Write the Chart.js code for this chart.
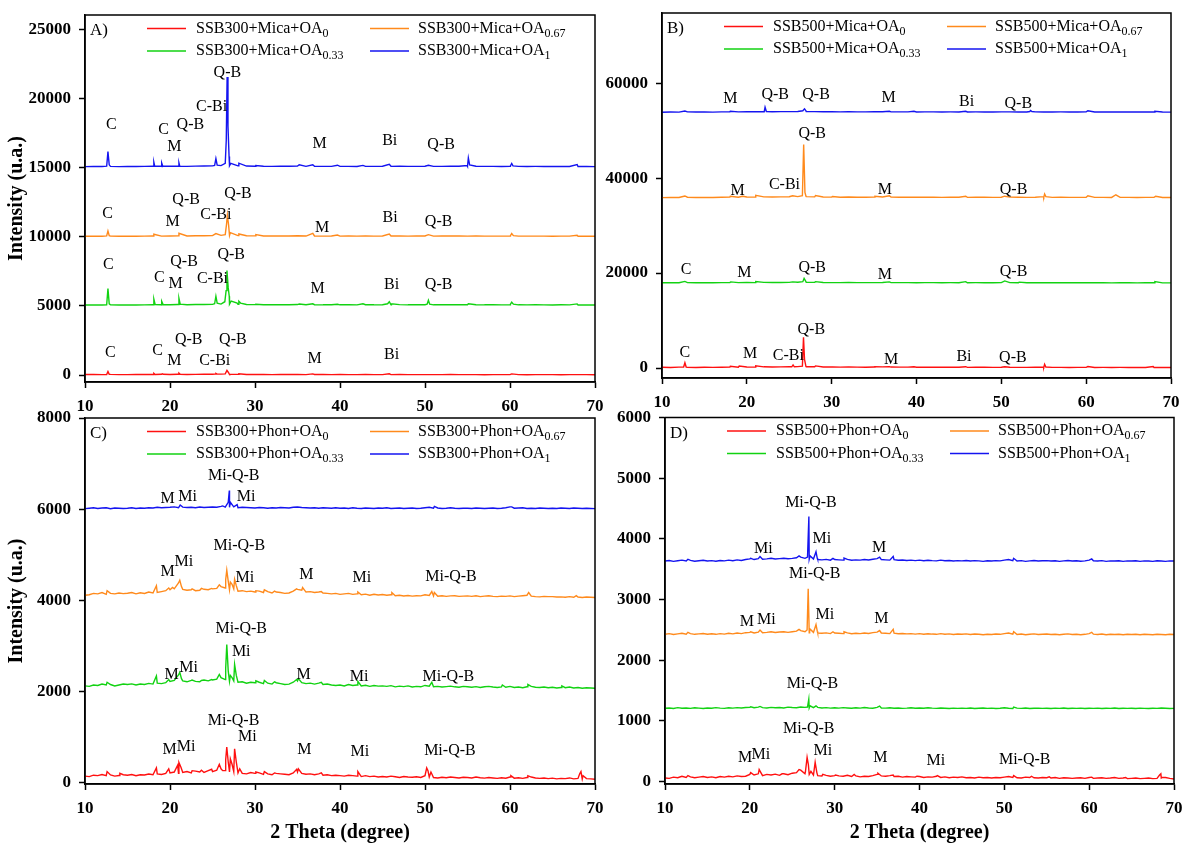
<!DOCTYPE html>
<html>
<head>
<meta charset="utf-8">
<title>XRD patterns – SSB + Mica / Phon + OA</title>
<script src="https://cdn.jsdelivr.net/npm/chart.js@4.4.1/dist/chart.umd.min.js"></script>
<style>
  html, body { margin: 0; padding: 0; background: #fff; }
  #page { position: relative; width: 1182px; height: 843px; overflow: hidden; background: #fff; }
  .panel { position: absolute; }
</style>
</head>
<body>
<div id="page">
  <div class="panel" id="wrapB" style="left:600px;top:0;width:582px;height:420px"><canvas id="chartB" width="582" height="420"></canvas></div>
  <div class="panel" id="wrapD" style="left:600px;top:395px;width:582px;height:448px"><canvas id="chartD" width="582" height="448"></canvas></div>
  <div class="panel" id="wrapA" style="left:0;top:0;width:615px;height:420px"><canvas id="chartA" width="615" height="420"></canvas></div>
  <div class="panel" id="wrapC" style="left:0;top:395px;width:615px;height:448px"><canvas id="chartC" width="615" height="448"></canvas></div>
</div>
<script>
// ---------- axes ----------
const xTicks = [10, 20, 30, 40, 50, 60, 70];
const yTicksA = [0, 5000, 10000, 15000, 20000, 25000];
const yTicksB = [0, 20000, 40000, 60000];
const yTicksC = [0, 2000, 4000, 6000, 8000];
const yTicksD = [0, 1000, 2000, 3000, 4000, 5000, 6000];

// 2θ sampling grids: 1° for the mica panels, 0.5° for the phonolite panels
const gridCoarse = [];
for (let i = 0; i <= 60; i++) gridCoarse.push(10 + i);
const gridFine = [];
for (let i = 0; i <= 120; i++) gridFine.push(10 + i / 2);

// ---------- A) SSB300 + Mica ----------
const a0_base = [40,35,30,45,30,25,35,40,30,45, 40,50,40,45,55,50,60,55,45,40, 35,40,30,35,45,40,30,35,40,30,
  35,30,25,35,30,25,30,35,30,25, 30,25,30,35,25,30,25,20,30,25, 30,25,20,25,30,25,20,25,30,25, 20];
const a0_peaks = [[12.55,40],[12.7,260],[12.85,50],[18.0,40],[18.1,120],[18.25,40],[19.0,50],[19.1,90],[19.2,50],
  [20.9,50],[21.05,140],[21.2,50],[25.3,60],[25.4,110],[25.55,60],[26.5,80],[26.7,330],[26.85,200],[26.97,80],
  [28.1,90],[36.8,80],[45.8,90],[60.2,80]];
const a033_base = [5060,5070,5065,5075,5060,5070,5065,5075,5080,5070, 5085,5090,5080,5095,5100,5110,5130,5120,5110,5100,
  5090,5085,5080,5090,5085,5095,5080,5085,5075,5080, 5075,5080,5070,5080,5075,5085,5080,5090,5075,5080,
  5085,5075,5080,5085,5090,5080,5085,5075,5080,5070, 5080,5075,5070,5075,5070,5065,5075,5070,5065,5070, 5060];
const a033_peaks = [[12.55,5080],[12.7,6250],[12.85,5150],[18.0,5080],[18.1,5480],[18.25,5100],[18.95,5080],[19.05,5330],[19.2,5080],
  [20.9,5100],[21.05,5550],[21.2,5120],[25.25,5150],[25.4,5700],[25.55,5200],[26.45,5300],[26.6,6100],[26.7,7550],[26.85,6300],
  [26.97,5700],[27.2,5350],[27.9,5200],[28.1,5330],[28.3,5200],[30.1,5120],[35.2,5130],[36.8,5150],[39.7,5120],[42.7,5150],
  [45.6,5150],[45.8,5300],[46.05,5150],[50.25,5120],[50.4,5400],[50.55,5120],[55.1,5150],[60.05,5120],[60.2,5260],[60.4,5120],[67.9,5140]];
const a067_base = [10030,10040,10035,10045,10030,10040,10035,10045,10050,10040, 10055,10060,10050,10065,10070,10080,10100,10090,10080,10070,
  10060,10055,10050,10060,10055,10065,10050,10055,10045,10050, 10045,10050,10040,10050,10045,10055,10050,10060,10045,10050,
  10055,10045,10050,10055,10050,10045,10050,10040,10045,10040, 10050,10045,10040,10045,10040,10035,10045,10040,10035,10040, 10030];
const a067_peaks = [[12.55,10060],[12.7,10420],[12.85,10080],[18.1,10180],[21.05,10250],[25.4,10230],[26.5,10150],[26.65,10900],
  [26.75,11550],[26.9,10800],[27.1,10300],[28.1,10200],[30.1,10150],[36.8,10250],[39.7,10120],[45.8,10200],[50.4,10150],
  [60.05,10080],[60.2,10230],[60.4,10080],[67.9,10100]];
const a1_base = [15070,15080,15075,15085,15070,15080,15075,15085,15090,15080, 15095,15100,15090,15105,15110,15120,15140,15130,15120,15110,
  15100,15095,15090,15100,15095,15105,15090,15095,15085,15090, 15085,15090,15080,15090,15085,15095,15090,15100,15085,15090,
  15095,15085,15090,15095,15100,15090,15095,15085,15090,15080, 15090,15085,15080,15085,15080,15075,15085,15080,15075,15080, 15070];
const a1_peaks = [[12.55,15100],[12.7,16150],[12.85,15200],[18.0,15100],[18.1,15380],[18.2,15100],[18.95,15100],[19.05,15330],[19.15,15100],
  [20.9,15100],[21.05,15350],[21.15,15100],[25.25,15150],[25.4,15650],[25.55,15180],[26.5,15300],[26.62,17000],[26.72,21550],[26.82,18000],
  [26.95,15800],[27.15,15300],[28.1,15320],[30.1,15150],[35.2,15200],[36.8,15200],[39.7,15170],[42.7,15160],[45.8,15230],[50.4,15170],
  [54.95,15150],[55.1,15700],[55.25,15200],[60.05,15120],[60.2,15300],[60.35,15120],[67.9,15220]];

// ---------- B) SSB500 + Mica ----------
const b0_base = [150,120,180,140,110,160,130,150,200,180, 220,180,250,200,230,260,300,280,250,220,
  200,180,220,190,170,210,230,200,180,190, 170,160,180,150,170,160,140,150,160,140,
  150,160,140,130,150,140,130,140,120,130, 140,120,130,110,130,120,110,120,100,110, 100];
const b0_peaks = [[12.55,200],[12.7,1100],[12.85,200],[18.05,350],[19.1,400],[21.05,450],[25.3,250],[25.45,650],[25.6,250],
  [26.55,400],[26.68,6500],[26.8,1800],[26.97,300],[28.1,450],[30.1,200],[35.1,250],[36.8,300],[39.7,250],[45.8,280],
  [50.4,250],[54.95,200],[55.1,800],[55.25,200],[60.2,300],[67.9,300]];
const b033_base = [17950,17980,17960,18000,17970,17990,17960,17980,18010,17990, 18020,18000,18040,18010,18030,18050,18080,18060,18040,18020,
  18000,17990,18010,17990,17980,18000,18020,17990,17980,17990, 17970,17990,17980,17960,17980,17970,17960,17980,17970,17960,
  17980,17990,17960,17950,17970,17960,17950,17970,17960,17950, 17970,17950,17960,17940,17960,17950,17940,17960,17950,17940, 17930];
const b033_peaks = [[12.7,18250],[18.1,18150],[21.05,18200],[25.4,18150],[26.6,18200],[26.75,18900],[26.95,18250],[28.1,18200],
  [36.8,18150],[45.8,18200],[50.4,18350],[52.1,18100],[68.1,18200]];
const b067_base = [35900,35950,35920,35980,35940,35960,35930,35970,36010,35990, 36030,36010,36060,36020,36050,36080,36120,36100,36060,36030,
  36010,35990,36020,35990,35980,36010,36040,36000,35980,35990, 35970,35990,35980,35960,35980,35970,35960,35990,35970,35960,
  35990,36000,35970,35950,35970,35960,35950,35980,35960,35950, 35980,35950,35960,35940,35960,35950,35940,35960,35950,35930, 35920];
const b067_peaks = [[12.7,36250],[18.05,36200],[19.5,36200],[21.05,36400],[25.4,36300],[26.55,36300],[26.7,47100],[26.85,37000],
  [26.97,36200],[28.1,36350],[30.1,36150],[35.1,36200],[36.8,36300],[45.8,36200],[50.4,36200],[54.95,36100],[55.1,36650],
  [55.25,36100],[60.2,36300],[63.5,36500],[68.2,36200]];
const b1_base = [53900,53950,53920,53960,53930,53950,53920,53960,53990,53970, 54000,53980,54010,53990,54010,54030,54060,54040,54010,53990,
  53980,53960,53990,53970,53960,53980,54000,53970,53960,53970, 53950,53970,53960,53940,53960,53950,53940,53960,53950,53940,
  53960,53970,53950,53940,53960,53950,53940,53960,53950,53940, 53960,53940,53950,53930,53950,53940,53930,53950,53940,53930, 53920];
const b1_peaks = [[12.7,54150],[18.05,54100],[22.05,54000],[22.15,54950],[22.3,54050],[26.6,54200],[26.8,54600],[26.97,54200],
  [36.8,54100],[39.7,54100],[45.8,54100],[53.35,54050],[53.45,54250],[53.6,54050],[60.2,54200],[68.1,54100]];

// ---------- C) SSB300 + Phon ----------
const c0_base = [140,130,160,150,175,150,165,140,155,170, 160,175,150,170,165,185,170,190,175,200,
  210,230,200,220,240,210,250,230,220,260, 240,270,300,260,230,240,210,200,190,220,
  200,210,180,190,170,200,190,180,170,210, 230,200,180,190,170,190,160,170,150,160,
  150,140,160,150,140,130,150,130,140,120, 130,120,140,125,110,130,120,115,125,110,
  150,120,110,100,115,105,120,110,100,115, 110,100,120,105,95,110,100,90,105,95,
  120,95,105,90,110,120,100,90,100,85, 95,80,90,85,100,80,90,75,85,80, 70];
const c0_peaks = [[12.6,240],[14.1,200],[18.4,320],[19.85,300],[20.9,380],[21.05,440],[21.3,330],[22.6,260],[23.7,270],[24.9,290],
  [25.8,400],[26.2,260],[26.55,500],[26.68,780],[26.85,450],[27.1,520],[27.3,400],[27.6,740],[27.8,450],[28.2,300],[30.1,230],
  [31.1,240],[32.3,210],[34.9,290],[35.1,300],[37.8,210],[42.1,240],[50.2,320],[50.35,260],[50.7,230],[60.1,150],[62.1,150],
  [68.2,190],[68.35,240],[68.6,150]];
const c033_base = [2120,2110,2140,2130,2160,2140,2150,2120,2140,2160, 2150,2165,2140,2160,2150,2175,2160,2180,2170,2190,
  2220,2240,2200,2230,2210,2240,2220,2210,2250,2230, 2250,2270,2300,2260,2220,2230,2200,2210,2180,2200,
  2190,2200,2170,2180,2160,2190,2170,2150,2160,2200, 2230,2190,2170,2180,2160,2180,2150,2160,2140,2130,
  2140,2120,2150,2130,2140,2120,2135,2110,2130,2115, 2120,2110,2125,2100,2115,2105,2120,2095,2110,2100,
  2130,2115,2100,2110,2095,2105,2115,2100,2090,2110, 2100,2090,2105,2085,2100,2110,2095,2085,2100,2090,
  2110,2085,2095,2080,2100,2110,2090,2085,2095,2080, 2090,2075,2085,2080,2095,2075,2085,2070,2080,2075, 2070];
const c033_peaks = [[12.6,2200],[18.4,2340],[19.85,2260],[21.0,2360],[21.15,2420],[21.35,2280],[22.6,2250],[23.7,2240],[24.9,2260],
  [25.8,2370],[26.55,2500],[26.68,3030],[26.85,2450],[27.1,2350],[27.3,2300],[27.6,2590],[27.8,2350],[30.1,2230],[31.1,2240],
  [32.3,2210],[34.9,2260],[35.1,2280],[37.8,2200],[42.1,2220],[50.8,2200],[59.1,2140],[62.1,2150],[66.1,2120]];
const c067_base = [4110,4120,4150,4140,4170,4130,4150,4140,4160,4145, 4155,4170,4140,4165,4150,4180,4160,4170,4190,4210,
  4230,4250,4200,4240,4220,4230,4210,4220,4240,4230, 4250,4260,4300,4270,4230,4250,4200,4210,4190,4200,
  4180,4200,4170,4190,4160,4180,4170,4150,4160,4200, 4240,4220,4180,4190,4170,4180,4160,4150,4140,4150,
  4130,4140,4150,4130,4140,4120,4135,4110,4130,4115, 4125,4110,4120,4100,4110,4095,4105,4090,4100,4095,
  4120,4105,4095,4090,4100,4085,4095,4100,4085,4090, 4095,4085,4100,4080,4090,4100,4085,4080,4090,4085,
  4095,4080,4090,4100,4110,4090,4080,4075,4085,4080, 4080,4070,4075,4065,4080,4065,4070,4060,4070,4065, 4060];
const c067_peaks = [[12.6,4210],[18.4,4320],[19.85,4270],[20.3,4280],[21.0,4380],[21.15,4440],[21.35,4300],[22.6,4250],[23.7,4260],
  [24.9,4260],[25.8,4340],[26.55,4450],[26.68,4660],[26.85,4420],[27.1,4400],[27.3,4350],[27.6,4460],[27.8,4320],[30.1,4210],
  [31.1,4230],[32.3,4200],[34.9,4250],[35.6,4280],[37.8,4190],[42.1,4180],[46.1,4170],[50.8,4190],[51.1,4170],[62.2,4170],[67.8,4100]];
const c1_base = [6010,6020,6030,6015,6025,6030,6010,6025,6020,6015, 6020,6030,6015,6025,6020,6030,6025,6040,6030,6035,
  6040,6050,6030,6045,6035,6040,6030,6045,6035,6040, 6045,6040,6060,6045,6040,6050,6030,6040,6035,6030,
  6025,6035,6030,6020,6030,6025,6035,6030,6025,6040, 6045,6035,6030,6025,6030,6020,6030,6025,6020,6030,
  6020,6025,6015,6030,6020,6015,6025,6020,6015,6025, 6020,6030,6015,6020,6025,6015,6020,6025,6015,6020,
  6030,6040,6020,6025,6015,6020,6030,6020,6015,6020, 6020,6015,6025,6020,6015,6020,6025,6015,6020,6030,
  6050,6020,6025,6030,6015,6020,6015,6025,6020,6015, 6020,6015,6025,6020,6015,6025,6020,6015,6020,6015, 6010];
const c1_peaks = [[21.2,6090],[26.2,6070],[26.85,6150],[26.98,6410],[27.1,6150],[27.9,6100],[51.1,6060],[60.2,6050]];

// ---------- D) SSB500 + Phon ----------
const d0_base = [60,55,75,65,90,70,80,65,75,85, 70,80,65,85,75,90,80,95,85,90,
  120,110,130,100,120,110,125,105,130,115, 140,150,190,130,120,110,100,95,105,90,
  100,95,90,105,85,95,80,90,85,100, 120,95,90,100,85,90,75,85,80,75,
  85,70,80,75,90,70,80,65,75,70, 80,65,70,60,75,65,70,60,70,65,
  75,85,70,65,60,75,70,65,60,70, 65,60,70,55,65,60,55,60,65,55,
  70,55,60,65,55,60,70,55,60,50, 55,60,50,55,60,50,55,60,70,55, 45];
const d0_peaks = [[12.7,100],[20.1,150],[21.1,200],[23.8,130],[25.8,200],[26.55,160],[26.75,400],[26.9,280],[27.2,170],[27.7,320],
  [27.9,150],[28.6,120],[30.1,110],[32.3,120],[35.1,140],[36.9,110],[39.7,90],[42.1,100],[51.1,100],[53.2,90],[55.3,80],
  [60.3,75],[64.3,70],[68.3,110],[68.45,130],[68.6,70]];
const d033_base = [1210,1215,1205,1220,1210,1215,1208,1218,1212,1205, 1215,1210,1220,1212,1208,1218,1212,1220,1215,1222,
  1225,1218,1228,1220,1215,1225,1218,1222,1215,1228, 1222,1218,1230,1225,1215,1220,1225,1215,1220,1212,
  1218,1212,1220,1215,1210,1218,1212,1222,1215,1210, 1225,1215,1212,1218,1210,1215,1208,1212,1218,1210,
  1215,1210,1218,1212,1208,1215,1210,1205,1212,1208, 1212,1208,1215,1205,1210,1215,1208,1212,1205,1210,
  1218,1210,1205,1212,1208,1215,1205,1210,1212,1208, 1210,1205,1212,1208,1215,1205,1210,1208,1212,1205,
  1210,1208,1212,1205,1210,1208,1215,1205,1210,1208, 1210,1205,1212,1208,1205,1210,1208,1215,1210,1205, 1208];
const d033_peaks = [[20.1,1235],[21.2,1240],[26.8,1230],[26.95,1360],[27.1,1250],[27.8,1250],[35.3,1245],[51.1,1230]];
const d067_base = [2430,2440,2425,2435,2445,2430,2440,2428,2435,2442, 2430,2438,2428,2440,2432,2445,2435,2450,2440,2455,
  2460,2450,2465,2455,2460,2470,2458,2465,2470,2460, 2470,2480,2490,2470,2455,2460,2450,2445,2452,2440,
  2450,2445,2440,2452,2438,2445,2440,2450,2442,2455, 2465,2450,2445,2440,2448,2438,2442,2435,2440,2432,
  2440,2430,2438,2432,2428,2440,2430,2435,2425,2432, 2428,2435,2425,2432,2428,2420,2430,2425,2432,2428,
  2440,2450,2430,2425,2432,2420,2428,2435,2425,2430, 2432,2425,2430,2420,2428,2435,2425,2430,2422,2428,
  2440,2430,2425,2432,2420,2428,2425,2430,2420,2428, 2425,2430,2420,2428,2425,2420,2430,2425,2420,2428, 2425];
const d067_peaks = [[12.7,2460],[20.1,2470],[21.2,2500],[25.8,2510],[26.75,2500],[26.88,3180],[27.05,2520],[27.8,2590],[27.95,2480],
  [29.8,2470],[31.1,2470],[35.3,2490],[36.9,2510],[51.1,2470],[60.3,2460]];
const d1_base = [3635,3645,3630,3640,3650,3635,3645,3632,3640,3648, 3635,3642,3632,3645,3638,3650,3640,3655,3645,3660,
  3670,3660,3675,3665,3670,3680,3668,3675,3680,3672, 3680,3690,3700,3680,3665,3670,3660,3655,3662,3650,
  3660,3655,3650,3662,3648,3655,3650,3660,3652,3665, 3675,3660,3655,3650,3658,3648,3652,3645,3650,3642,
  3650,3640,3648,3642,3638,3650,3640,3645,3635,3642, 3638,3645,3635,3642,3638,3630,3640,3635,3642,3638,
  3650,3660,3640,3635,3642,3630,3638,3645,3635,3640, 3642,3635,3640,3630,3638,3645,3635,3640,3632,3638,
  3650,3640,3635,3642,3630,3638,3635,3640,3630,3638, 3635,3640,3630,3638,3635,3630,3640,3635,3630,3638, 3635];
const d1_peaks = [[12.7,3665],[20.1,3680],[21.2,3710],[25.8,3720],[26.8,3700],[26.96,4370],[27.1,3720],[27.8,3790],[27.95,3680],
  [29.8,3680],[31.1,3685],[35.3,3700],[36.9,3710],[51.1,3680],[60.3,3670]];

// ---------- phase labels over the patterns: [text, 2θ, intensity] ----------
const marksA = [
  ['C',13.1,18130],['C',19.25,17700],['M',20.5,16500],['Q-B',22.4,18130],['C-Bi',24.9,19430],['Q-B',26.75,21840],
  ['M',37.6,16690],['Bi',45.85,16930],['Q-B',51.9,16620],
  ['C',12.67,11680],['Q-B',21.9,12640],['M',20.3,11080],['C-Bi',25.4,11560],['Q-B',28.0,13130],['M',37.9,10640],
  ['Bi',45.9,11390],['Q-B',51.6,11080],
  ['C',12.75,7950],['Q-B',21.65,8190],['C',18.76,7030],['M',20.66,6620],['C-Bi',25.0,6990],['Q-B',27.2,8670],
  ['M',37.36,6260],['Bi',46.07,6500],['Q-B',51.6,6550],
  ['C',12.98,1640],['C',18.53,1730],['M',20.52,1010],['Q-B',22.2,2530],['C-Bi',25.26,1010],['Q-B',27.4,2580],
  ['M',37.0,1200],['Bi',46.07,1445]
];
const marksB = [
  ['M',18.05,56770],['Q-B',23.35,57470],['Q-B',28.16,57470],['M',36.7,56900],['Bi',45.9,56060],['Q-B',52.0,55570],
  ['Q-B',27.7,49400],['M',18.9,37260],['C-Bi',24.44,38520],['M',36.26,37470],['Q-B',51.44,37470],
  ['C',12.85,20780],['M',19.7,20070],['Q-B',27.7,21120],['M',36.26,19580],['Q-B',51.44,20280],
  ['C',12.7,3230],['M',20.4,3090],['Q-B',27.6,8150],['C-Bi',24.9,2530],['M',37.0,1830],['Bi',45.6,2390],['Q-B',51.36,2250]
];
const marksC = [
  ['Mi-Q-B',27.5,6723],['M',19.73,6227],['Mi',22.07,6270],['Mi',28.96,6270],
  ['Mi-Q-B',28.15,5190],['M',19.73,4621],['Mi',21.62,4840],['Mi',28.8,4497],['M',36.04,4556],['Mi',42.57,4497],['Mi-Q-B',53.06,4512],
  ['Mi-Q-B',28.38,3366],['Mi',28.38,2877],['M',20.18,2366],['Mi',22.2,2527],['M',35.72,2366],['Mi',42.25,2322],['Mi-Q-B',52.75,2330],
  ['Mi-Q-B',27.48,1358],['Mi',29.1,1008],['M',19.96,723],['Mi',21.9,789],['M',35.8,723],['Mi',42.34,679],['Mi-Q-B',52.93,686]
];
const marksD = [
  ['Mi-Q-B',27.2,4590],['Mi',28.5,4002],['Mi',21.6,3837],['M',35.24,3853],
  ['Mi-Q-B',27.65,3424],['Mi',28.83,2753],['M',19.65,2627],['Mi',21.96,2665],['M',35.5,2682],
  ['Mi-Q-B',27.38,1618],
  ['Mi-Q-B',26.94,865],['Mi',28.6,507],['M',19.43,388],['Mi',21.3,443],['M',35.38,388],['Mi',41.93,344],['Mi-Q-B',52.4,360]
];

// ---------- series names (base text + subscript) ----------
const oaSubs = ['0', '0.33', '0.67', '1'];
const seriesColors = ['#ff1010', '#12d212', '#ff8a1c', '#1414f0'];

// ---------- helpers ----------
function buildSeries(grid, base, peaks) {
  const pts = grid.map((x, i) => ({ x, y: base[i] }));
  peaks.forEach(([x, y]) => {
    const hit = pts.find(p => Math.abs(p.x - x) < 1e-9);
    if (hit) hit.y = y; else pts.push({ x, y });
  });
  return pts.sort((a, b) => a.x - b.x);
}

const SERIF = '"Liberation Serif", "Times New Roman", serif';

const panelDecor = {
  id: 'panelDecor',
  afterDatasetsDraw(chart, args, opts) {
    const { ctx, chartArea: ca, scales: { x, y } } = chart;
    ctx.save();
    ctx.fillStyle = '#000';
    // phase labels
    ctx.font = '16px ' + SERIF;
    ctx.textAlign = 'center';
    ctx.textBaseline = 'middle';
    opts.marks.forEach(([t, lx, ly]) => ctx.fillText(t, x.getPixelForValue(lx), y.getPixelForValue(ly)));
    // panel letter
    ctx.textAlign = 'left';
    ctx.font = '17px ' + SERIF;
    ctx.fillText(opts.letter, ca.left + 5, ca.top + 16);
    // legend (two columns, two rows)
    const cols = [{ l0: 62, l1: 101, t: 111 }, { l0: 285, l1: 324, t: 333 }];
    const rows = [13.5, 36];
    opts.names.forEach((nm, i) => {
      const c = cols[Math.floor(i / 2)];
      const ry = ca.top + rows[i % 2];
      ctx.strokeStyle = seriesColors[i];
      ctx.lineWidth = 1.5;
      ctx.beginPath();
      ctx.moveTo(ca.left + c.l0, ry);
      ctx.lineTo(ca.left + c.l1, ry);
      ctx.stroke();
      ctx.fillStyle = '#000';
      ctx.font = '16px ' + SERIF;
      ctx.textBaseline = 'middle';
      ctx.fillText(nm, ca.left + c.t, ry);
      const w = ctx.measureText(nm).width;
      ctx.font = '12px ' + SERIF;
      ctx.fillText(oaSubs[i], ca.left + c.t + w, ry + 5);
    });
    // frame
    ctx.strokeStyle = '#000';
    ctx.lineWidth = 1.5;
    ctx.strokeRect(ca.left, ca.top, ca.width, ca.height);
    ctx.restore();
  }
};

function makePanel(canvasId, p) {
  const datasets = p.series.map((pts, i) => ({
    data: pts,
    borderColor: seriesColors[i],
    borderWidth: 1.4,
    pointRadius: 0,
    fill: false,
    tension: 0
  }));
  return new Chart(document.getElementById(canvasId), {
    type: 'line',
    data: { datasets },
    plugins: [panelDecor],
    options: {
      responsive: false,
      animation: false,
      devicePixelRatio: 1,
      events: [],
      layout: { padding: { top: p.padTop, right: p.padRight, left: 0, bottom: 0 } },
      plugins: {
        legend: { display: false },
        tooltip: { enabled: false },
        panelDecor: { marks: p.marks, letter: p.letter, names: p.names }
      },
      scales: {
        x: {
          type: 'linear',
          min: 10, max: 70,
          afterBuildTicks: s => { s.ticks = xTicks.map(v => ({ value: v })); },
          afterFit: s => { s.height = p.xh; s.paddingLeft = 0; s.paddingRight = 0; },
          ticks: { color: '#000', padding: 8, callback: v => String(v), font: { family: SERIF, size: 17, weight: 'bold' } },
          grid: { drawOnChartArea: false, drawTicks: true, tickLength: 6, tickWidth: 1.5, tickColor: '#000' },
          border: { display: true, color: '#000', width: 1.5 },
          title: {
            display: !!p.xTitle, text: p.xTitle || '', color: '#000', padding: { top: 0, bottom: 0 },
            font: { family: SERIF, size: 20, weight: 'bold', lineHeight: 1.05 }
          }
        },
        y: {
          type: 'linear',
          min: p.yMin, max: p.yMax,
          afterBuildTicks: s => { s.ticks = p.yTicks.map(v => ({ value: v })); },
          afterFit: s => { s.width = p.yw; s.paddingTop = 0; s.paddingBottom = 0; },
          ticks: { color: '#000', padding: 8, callback: v => String(v), font: { family: SERIF, size: 17, weight: 'bold' } },
          grid: { drawOnChartArea: false, drawTicks: true, tickLength: 6, tickWidth: 1.5, tickColor: '#000' },
          border: { display: true, color: '#000', width: 1.5 },
          title: {
            display: !!p.yTitle, text: p.yTitle || '', color: '#000', padding: { top: 6, bottom: 0 },
            font: { family: SERIF, size: 20, weight: 'bold', lineHeight: 1.1 }
          }
        }
      }
    }
  });
}

makePanel('chartA', {
  letter: 'A)',
  names: ['SSB300+Mica+OA', 'SSB300+Mica+OA', 'SSB300+Mica+OA', 'SSB300+Mica+OA'],
  series: [buildSeries(gridCoarse, a0_base, a0_peaks), buildSeries(gridCoarse, a033_base, a033_peaks),
           buildSeries(gridCoarse, a067_base, a067_peaks), buildSeries(gridCoarse, a1_base, a1_peaks)],
  marks: marksA, yTicks: yTicksA, yMin: -506, yMax: 26034,
  padTop: 15, padRight: 20, yw: 85, xh: 38, yTitle: 'Intensity (u.a.)'
});
makePanel('chartB', {
  letter: 'B)',
  names: ['SSB500+Mica+OA', 'SSB500+Mica+OA', 'SSB500+Mica+OA', 'SSB500+Mica+OA'],
  series: [buildSeries(gridCoarse, b0_base, b0_peaks), buildSeries(gridCoarse, b033_base, b033_peaks),
           buildSeries(gridCoarse, b067_base, b067_peaks), buildSeries(gridCoarse, b1_base, b1_peaks)],
  marks: marksB, yTicks: yTicksB, yMin: -2105, yMax: 74800,
  padTop: 13, padRight: 11, yw: 62, xh: 42
});
makePanel('chartC', {
  letter: 'C)',
  names: ['SSB300+Phon+OA', 'SSB300+Phon+OA', 'SSB300+Phon+OA', 'SSB300+Phon+OA'],
  series: [buildSeries(gridFine, c0_base, c0_peaks), buildSeries(gridFine, c033_base, c033_peaks),
           buildSeries(gridFine, c067_base, c067_peaks), buildSeries(gridFine, c1_base, c1_peaks)],
  marks: marksC, yTicks: yTicksC, yMin: -33, yMax: 8000,
  padTop: 23, padRight: 20, yw: 85, xh: 59, yTitle: 'Intensity (u.a.)', xTitle: '2 Theta (degree)'
});
makePanel('chartD', {
  letter: 'D)',
  names: ['SSB500+Phon+OA', 'SSB500+Phon+OA', 'SSB500+Phon+OA', 'SSB500+Phon+OA'],
  series: [buildSeries(gridFine, d0_base, d0_peaks), buildSeries(gridFine, d033_base, d033_peaks),
           buildSeries(gridFine, d067_base, d067_peaks), buildSeries(gridFine, d1_base, d1_peaks)],
  marks: marksD, yTicks: yTicksD, yMin: -38, yMax: 6000,
  padTop: 22.5, padRight: 8, yw: 65, xh: 59, xTitle: '2 Theta (degree)'
});
</script>
</body>
</html>
